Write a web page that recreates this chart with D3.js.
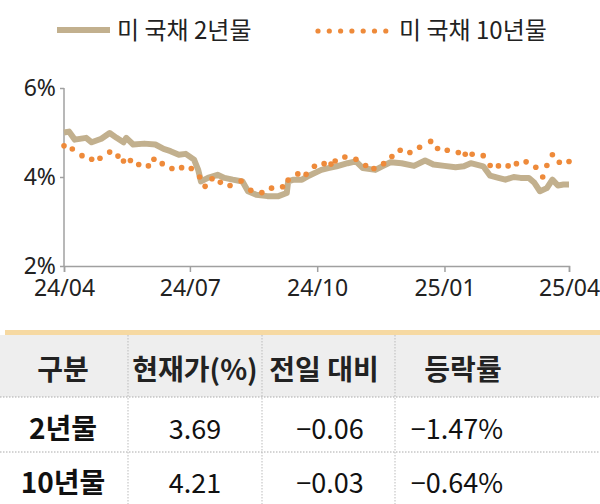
<!DOCTYPE html><html><head><meta charset="utf-8">
<script src="https://cdn.jsdelivr.net/npm/d3@7"></script>
<style>body{margin:0;background:#fff}svg{font-family:"Noto Sans CJK KR","Noto Sans",sans-serif}</style></head><body>
<svg id="c" width="600" height="504"></svg>
<script>
// day offsets from 2024-04-01
const days2y=[0,3.6,7.8,16,20,27,33,38,43,45,50,58,66,72,77,83,88,94,97,99,104,111,116,122,129,133,139,147,155,161,162,166,172,177,186,191,197,205,211,216,225,230,236,244,253,261,267,275,283,289,294,303,308,314,319,325,330,336,340,344,349,353,357,361,365];
const val2y=[5.00,5.02,4.84,4.88,4.78,4.86,4.99,4.88,4.78,4.88,4.73,4.75,4.73,4.63,4.58,4.50,4.52,4.39,4.16,3.90,3.98,4.05,3.98,3.94,3.90,3.68,3.60,3.57,3.57,3.64,3.90,3.94,3.94,4.03,4.16,4.20,4.24,4.31,4.35,4.20,4.16,4.24,4.33,4.31,4.25,4.37,4.28,4.25,4.22,4.24,4.31,4.24,4.03,3.98,3.94,4.00,3.98,3.98,3.87,3.68,3.75,3.94,3.81,3.83,3.83];
const days10y=[0,6,13,20,26,33,39,43,48,54,61,65,71,78,85,92,98,102,107,113,120,128,135,143,150,158,162,169,175,181,188,193,196,203,211,218,224,231,237,243,250,257,265,270,277,285,290,295,303,308,314,321,327,334,341,346,349,353,358,365];
const val10y=[4.70,4.63,4.48,4.40,4.42,4.56,4.47,4.36,4.37,4.28,4.25,4.40,4.30,4.19,4.21,4.19,4.00,3.79,3.96,3.88,3.81,3.91,3.70,3.65,3.75,3.78,3.93,4.07,4.06,4.24,4.30,4.29,4.36,4.45,4.40,4.26,4.19,4.30,4.46,4.60,4.55,4.67,4.80,4.64,4.60,4.55,4.51,4.51,4.48,4.26,4.25,4.25,4.30,4.34,4.22,4.00,4.26,4.50,4.33,4.35];
const xTickLabels=["24/04","24/07","24/10","25/01","25/04"];
const xTickDays=[0,91,183,275,365];
const yTicks=[2,4,6];
const legendLabels=["미 국채 2년물","미 국채 10년물"];
const tableHeader=["구분","현재가(%)","전일 대비","등락률"];
const tableRows=[["2년물","3.69","−0.06","−1.47%"],["10년물","4.21","−0.03","−0.64%"]];

const svg=d3.select("#c");
const x=d3.scaleLinear().domain([0,365]).range([64,569]);
const y=d3.scaleLinear().domain([2,6]).range([266,88]);
const tan="#c2b08e", orange="#ee8a3a";

// legend
svg.append("line").attr("x1",57).attr("x2",110).attr("y1",30).attr("y2",30).attr("stroke",tan).attr("stroke-width",6);
svg.append("text").attr("x",117).attr("y",39).attr("font-size",24).attr("fill","#222").text(legendLabels[0]);
d3.range(7).forEach(i=>svg.append("circle").attr("cx",318+i*11.3).attr("cy",31).attr("r",2.6).attr("fill",orange));
svg.append("text").attr("x",399).attr("y",39).attr("font-size",24).attr("fill","#222").text(legendLabels[1]);

// axes
const ya=svg.append("g").attr("transform","translate(64,0)").call(d3.axisLeft(y).tickValues(yTicks).tickSize(4).tickFormat(d=>d+"%"));
const xa=svg.append("g").attr("transform","translate(0,266)").call(d3.axisBottom(x).tickValues(xTickDays).tickSize(6).tickFormat((d,i)=>xTickLabels[i]));
[ya,xa].forEach(g=>{g.selectAll("path,line").attr("stroke","#a0a0a0").attr("stroke-width",1.5);g.selectAll("text").attr("font-size",23).attr("fill","#222").attr("font-family","Noto Sans, sans-serif");});
ya.select(".domain").attr("d","M0,88V266");
ya.selectAll("text").attr("x",-8);
xa.selectAll("text").attr("y",14);

// series
svg.append("path").datum(days2y.map((d,i)=>[d,val2y[i]])).attr("fill","none").attr("stroke",tan).attr("stroke-width",6).attr("stroke-linejoin","round")
 .attr("d",d3.line().x(d=>x(d[0])).y(d=>y(d[1])));
svg.selectAll(".d10").data(days10y.map((d,i)=>[d,val10y[i]])).join("circle").attr("cx",d=>x(d[0])).attr("cy",d=>y(d[1])).attr("r",2.8).attr("fill",orange);

// table
svg.append("rect").attr("x",5).attr("y",330).attr("width",595).attr("height",5).attr("fill","#f6d9a2");
svg.append("rect").attr("x",0).attr("y",335).attr("width",600).attr("height",62).attr("fill","#eeeeee");
[397,452].forEach(yy=>svg.append("line").attr("x1",0).attr("x2",600).attr("y1",yy).attr("y2",yy).attr("stroke","#aaa").attr("stroke-dasharray","1.5,1.5"));
[128,262,395].forEach(xx=>svg.append("line").attr("x1",xx).attr("x2",xx).attr("y1",335).attr("y2",504).attr("stroke","#bbb").attr("stroke-dasharray","1.5,1.5"));
const cx=[63,195,324,463], vx=[63,195,330,457];
tableHeader.forEach((t,i)=>svg.append("text").attr("x",cx[i]).attr("y",380).attr("text-anchor","middle").attr("font-size",28).attr("font-weight","bold").attr("fill","#222").text(t));
tableRows.forEach((r,j)=>r.forEach((t,i)=>svg.append("text").attr("x",vx[i]).attr("y",439+j*54).attr("text-anchor","middle").attr("font-size",i==0?28:27).attr("font-weight",i==0?"bold":"normal").attr("fill","#111").text(t)));
</script></body></html>
